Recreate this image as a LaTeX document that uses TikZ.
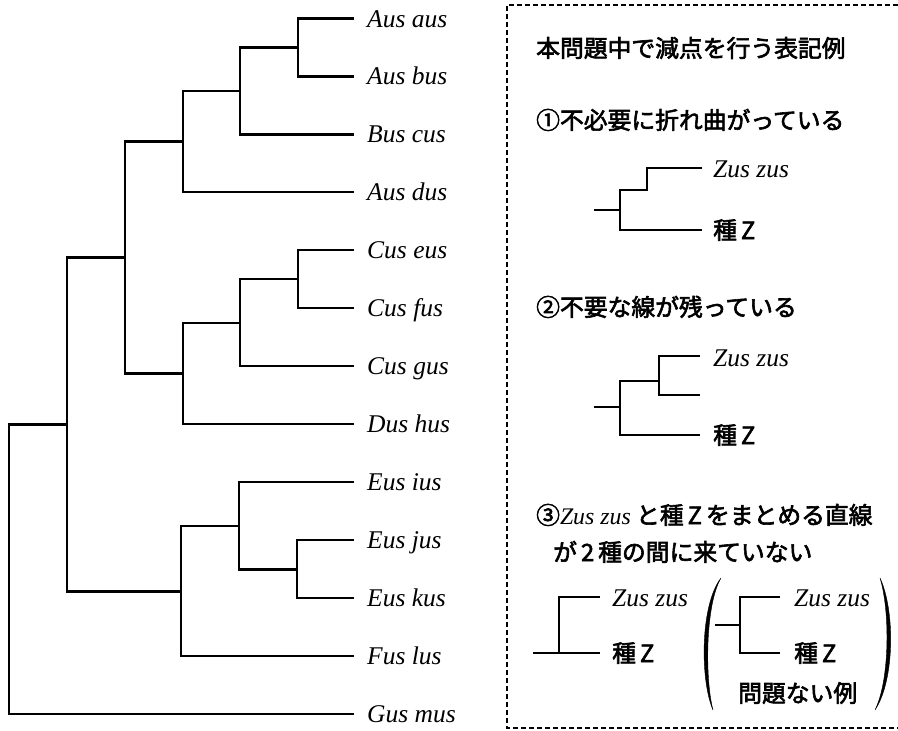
\documentclass[tikz,border=0pt]{standalone}
\usepackage{fontspec}
\setmainfont{Liberation Serif}
\newfontfamily\jp{Noto Sans CJK JP}[FakeBold=2.5]
\newcommand{\spn}[1]{{\fontspec{Liberation Serif}\itshape #1}}
\begin{document}
\begin{tikzpicture}[x=1pt,y=-1pt]
\tikzset{
  br/.style={line width=2.2pt},
  sp/.style={font=\fontsize{25.5}{28}\selectfont\itshape, anchor=base west, inner sep=0pt},
  jt/.style={font=\jp\fontsize{23.8}{28}\selectfont\addfontfeature{FakeBold=2.5}, anchor=base west, inner sep=0pt},
  dbox/.style={line width=1.2pt, dash pattern=on 5pt off 3pt},
  paren/.style={fill=black, draw=black, line width=0.4pt}
}
\useasboundingbox (0,0) rectangle (898,731);
% leaves
\foreach \t [count=\i] in {Aus aus, Aus bus, Bus cus, Aus dus, Cus eus, Cus fus, Cus gus, Dus hus, Eus ius, Eus jus, Eus kus, Fus lus, Gus mus}{
  \pgfmathsetmacro\yy{18.5+57.96*(\i-1)}
  \coordinate (e\i) at (354,\yy);
  \node[sp] (l\i) at (367,\yy+8.5) {\t};
}
% internal nodes
\coordinate (n1) at (298,47.5);
\coordinate (n2) at (240,91);
\coordinate (n3) at (183,141.5);
\coordinate (n4) at (298,279);
\coordinate (n5) at (240,323);
\coordinate (n6) at (183,373.5);
\coordinate (n7) at (125,257.5);
\coordinate (n8) at (297,569.5);
\coordinate (n9) at (239,526);
\coordinate (n10) at (181,591.5);
\coordinate (n11) at (67,424.5);
\coordinate (n12) at (9,569);
\draw[br] (e1) -| (n1) |- (e2);
\draw[br] (n1) -| (n2) |- (e3);
\draw[br] (n2) -| (n3) |- (e4);
\draw[br] (e5) -| (n4) |- (e6);
\draw[br] (n4) -| (n5) |- (e7);
\draw[br] (n5) -| (n6) |- (e8);
\draw[br] (n3) -| (n7) |- (n6);
\draw[br] (e10) -| (n8) |- (e11);
\draw[br] (e9) -| (n9) |- (n8);
\draw[br] (n9) -| (n10) |- (e12);
\draw[br] (n7) -| (n11) |- (n10);
\draw[br] (n11) -| (n12) |- (e13);
% dashed box
\draw[dbox] (898,5) -- (507,5) -- (507,728) -- (898,728);
% right panel texts
\node[jt] (title) at (536,57) {本問題中で減点を行う表記例};
\node[jt] (h1) at (536,129) {①不必要に折れ曲がっている};
\node[jt] (h2) at (536,316) {②不要な線が残っている};
\node[jt] (h3) at (536,524) {③\spn{Zus zus} と種\,Z\,をまとめる直線};
\node[jt] (h3b) at (553,561) {が\hspace{4pt}2\hspace{4pt}種の間に来ていない};
% diagram 1
\coordinate (z1) at (702,168);
\coordinate (k1) at (702,230);
\coordinate (b1) at (647,190);
\coordinate (j1) at (620,210);
\coordinate (st1) at (594,210);
\draw[br] (z1) -| (b1) -| (j1) |- (k1);
\draw[br] (st1) -- (j1);
\node[sp] (zz1) at (713,177) {Zus zus};
\node[jt] (kz1) at (713,239) {種\,Z};
% diagram 2
\coordinate (z2) at (700,356);
\coordinate (x2) at (700,395);
\coordinate (b2) at (659,381);
\coordinate (j2) at (620,407);
\coordinate (st2) at (594,407);
\coordinate (k2) at (700,435);
\draw[br] (z2) -| (b2) |- (x2);
\draw[br] (b2) -| (j2) |- (k2);
\draw[br] (st2) -- (j2);
\node[sp] (zz2) at (713,366) {Zus zus};
\node[jt] (kz2) at (713,444) {種\,Z};
% diagram 3 left
\coordinate (z3) at (600,597);
\coordinate (k3) at (600,653);
\coordinate (j3) at (559,653);
\coordinate (st3) at (533,653);
\draw[br] (z3) -| (j3);
\draw[br] (st3) -- (k3);
\node[sp] (zz3) at (612,606) {Zus zus};
\node[jt] (kz3) at (612,662) {種\,Z};
% diagram 3 right
\coordinate (z4) at (780,597);
\coordinate (k4) at (780,653);
\coordinate (j4) at (740,625);
\coordinate (st4) at (715,625);
\draw[br] (z4) -| (j4) |- (k4);
\draw[br] (st4) -- (j4);
\node[sp] (zz4) at (794,606) {Zus zus};
\node[jt] (kz4) at (794,662) {種\,Z};
\node[jt] (ok) at (738,702) {問題ない例};
% parentheses
\fill[paren] (721,578) .. controls (700,605) and (700,680) .. (713,710)
  .. controls (705,680) and (705,605) .. (721,578) -- cycle;
\fill[paren] (880,578) .. controls (895,610) and (895,680) .. (875,710)
  .. controls (890,680) and (890,610) .. (880,578) -- cycle;
\end{tikzpicture}
\end{document}
